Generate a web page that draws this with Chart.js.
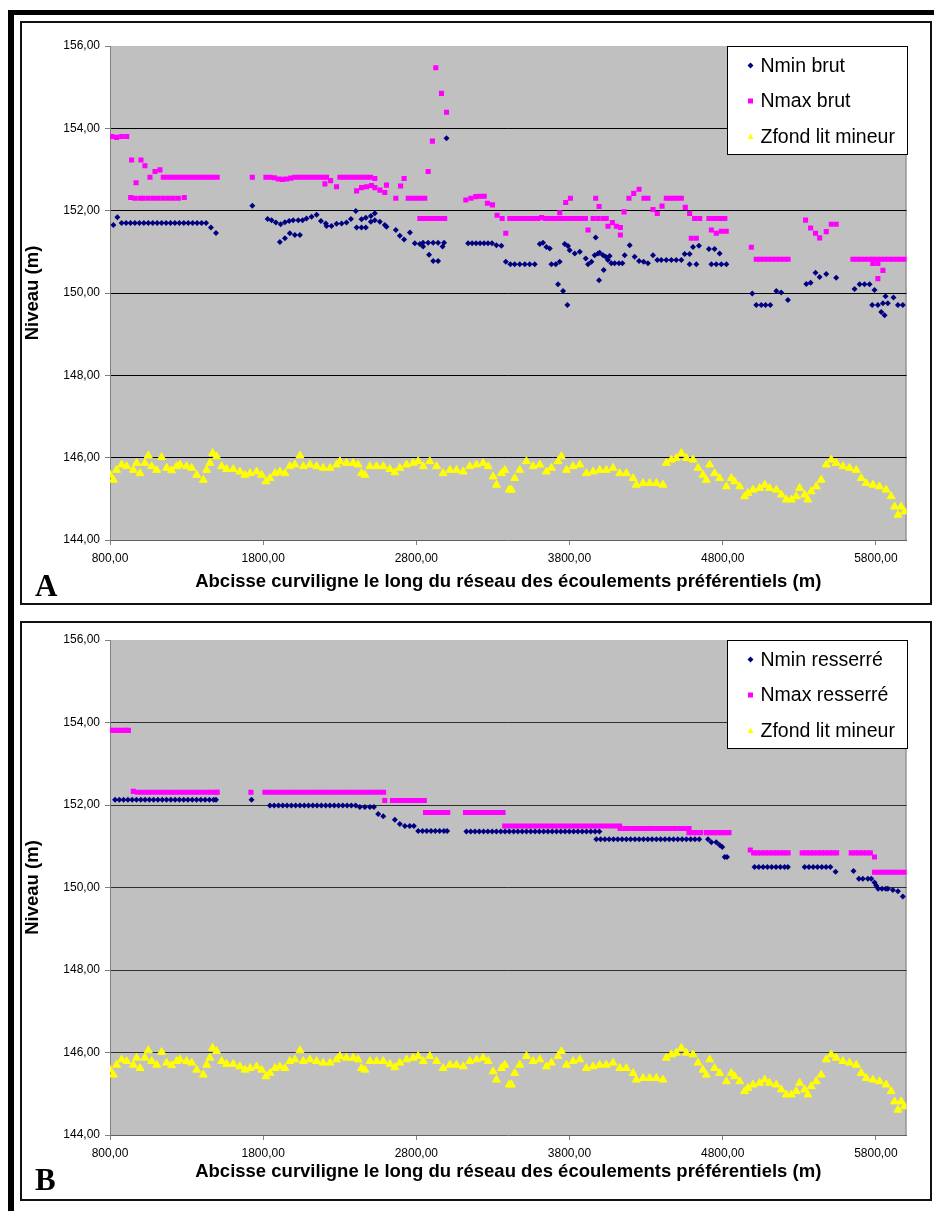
<!DOCTYPE html>
<html>
<head>
<meta charset="utf-8">
<script src="https://cdn.jsdelivr.net/npm/chart.js@4.4.0/dist/chart.umd.min.js"></script>
<style>
  body { margin: 0; background: #fff; width: 934px; height: 1211px; overflow: hidden; position: relative; }
  #outer { position: absolute; left: 8px; top: 10px; width: 940px; height: 1210px; border-left: 6px solid #000; border-top: 5px solid #000; }
  .panel { position: absolute; left: 20px; width: 912px; border: 2px solid #111; box-sizing: border-box; background: #fff; }
  #pa { top: 21px; height: 584px; }
  #pb { top: 621px; height: 580px; }
  .panel canvas { position: absolute; left: 0; top: 0; }
  .tag { position: absolute; left: 13px; font: bold 31px "Liberation Serif", "DejaVu Serif", serif; line-height: 1; color: #000; }
</style>
</head>
<body>
<div id="outer"></div>
<div class="panel" id="pa">
  <canvas id="chartA" width="908" height="580"></canvas>
  <div class="tag" style="top:547px">A</div>
</div>
<div class="panel" id="pb">
  <canvas id="chartB" width="908" height="576"></canvas>
  <div class="tag" style="top:541px">B</div>
</div>
<script>
// axes
var xTicks = [800, 1800, 2800, 3800, 4800, 5800];
var yTicks = [144, 146, 148, 150, 152, 154, 156];
var xTitle = "Abcisse curviligne le long du réseau des écoulements préférentiels (m)";
var yTitle = "Niveau (m)";

// Zfond lit mineur (same profile in both panels)
var zfond = [
  [800,145.58],[822,145.46],[843,145.70],[876,145.83],[909,145.79],[952,145.70],[974,145.87],[996,145.62],
  [1028,145.87],[1050,146.05],[1072,145.79],[1105,145.70],[1137,146.01],[1170,145.75],[1202,145.69],[1235,145.79],
  [1257,145.83],[1300,145.79],[1333,145.75],[1366,145.58],[1409,145.46],[1431,145.70],[1452,145.87],[1470,146.11],
  [1496,146.03],[1529,145.79],[1561,145.72],[1605,145.72],[1648,145.66],[1681,145.58],[1714,145.62],[1757,145.66],
  [1790,145.58],[1818,145.42],[1844,145.50],[1877,145.62],[1909,145.66],[1942,145.62],[1974,145.79],[2007,145.83],
  [2040,146.05],[2062,145.79],[2105,145.83],[2149,145.79],[2192,145.75],[2236,145.75],[2279,145.83],[2301,145.91],
  [2344,145.87],[2388,145.87],[2420,145.83],[2442,145.62],[2464,145.58],[2497,145.79],[2540,145.79],[2584,145.79],
  [2627,145.72],[2660,145.64],[2692,145.75],[2736,145.83],[2779,145.87],[2812,145.91],[2845,145.79],[2888,145.91],
  [2932,145.79],[2975,145.62],[3019,145.70],[3062,145.70],[3106,145.66],[3149,145.79],[3193,145.83],[3236,145.87],
  [3269,145.79],[3301,145.54],[3323,145.34],[3356,145.62],[3378,145.70],[3406,145.22],[3421,145.22],[3442,145.50],
  [3475,145.70],[3519,145.91],[3562,145.79],[3606,145.83],[3649,145.66],[3682,145.75],[3725,145.91],[3747,146.03],
  [3780,145.70],[3823,145.79],[3867,145.83],[3910,145.62],[3954,145.66],[3997,145.70],[4040,145.70],[4084,145.75],
  [4128,145.62],[4171,145.62],[4215,145.50],[4236,145.34],[4280,145.38],[4323,145.38],[4367,145.38],[4410,145.34],
  [4432,145.87],[4465,145.95],[4497,145.99],[4530,146.11],[4563,145.99],[4606,145.95],[4639,145.75],[4671,145.58],
  [4693,145.46],[4715,145.83],[4747,145.62],[4780,145.50],[4824,145.30],[4856,145.50],[4878,145.42],[4911,145.30],
  [4943,145.06],[4965,145.14],[4998,145.22],[5041,145.26],[5074,145.34],[5106,145.26],[5150,145.22],[5182,145.10],
  [5215,144.98],[5248,144.98],[5280,145.06],[5302,145.26],[5335,145.10],[5356,144.98],[5378,145.18],[5411,145.30],
  [5443,145.46],[5476,145.83],[5509,145.95],[5541,145.87],[5585,145.79],[5628,145.75],[5672,145.70],[5704,145.50],
  [5737,145.38],[5781,145.34],[5824,145.30],[5867,145.22],[5900,145.06],[5922,144.81],[5944,144.61],[5965,144.81],
  [5987,144.69]
];

// panel A : Nmin brut
var nminBrut = [
  [822,151.65],[848,151.84],
  [876,151.70],[905,151.70],[934,151.70],[963,151.70],[992,151.70],[1021,151.70],[1050,151.70],[1079,151.70],
  [1108,151.70],[1137,151.70],[1166,151.70],[1195,151.70],[1224,151.70],[1253,151.70],[1282,151.70],[1311,151.70],
  [1340,151.70],[1369,151.70],[1398,151.70],[1427,151.70],[1459,151.59],[1492,151.46],
  [1729,152.12],[1829,151.80],[1855,151.77],[1883,151.71],[1909,151.24],[1914,151.67],[1942,151.72],[1942,151.33],
  [1970,151.75],[1974,151.45],[1996,151.77],[2007,151.41],[2029,151.77],[2040,151.41],[2057,151.77],[2083,151.81],
  [2116,151.85],[2149,151.90],[2177,151.75],[2209,151.69],[2214,151.63],[2246,151.63],[2279,151.68],[2312,151.69],
  [2344,151.71],[2373,151.80],[2405,151.99],[2410,151.59],[2442,151.59],[2442,151.79],[2470,151.59],[2470,151.83],
  [2503,151.87],[2503,151.73],[2529,151.94],[2529,151.77],[2562,151.73],[2594,151.65],[2605,151.61],[2666,151.53],
  [2692,151.39],[2720,151.30],[2758,151.47],[2790,151.21],[2823,151.19],[2844,151.13],[2844,151.22],[2877,151.22],
  [2883,150.93],[2910,150.78],[2910,151.22],[2942,150.78],[2942,151.22],[2971,151.13],[2981,151.22],[2997,153.76],
  [3138,151.21],[3164,151.21],[3190,151.21],[3216,151.21],[3242,151.21],[3268,151.21],[3294,151.21],[3323,151.16],
  [3355,151.15],[3384,150.76],[3414,150.70],[3442,150.70],[3475,150.70],[3508,150.70],[3540,150.70],[3573,150.70],
  [3606,151.19],[3627,151.22],[3649,151.12],[3671,151.08],[3682,150.70],[3710,150.70],[3725,150.21],[3736,150.76],
  [3758,150.05],[3769,151.19],[3786,149.71],[3790,151.14],[3801,151.04],[3834,150.96],[3867,151.00],[3906,150.84],
  [3921,150.70],[3943,150.76],[3964,150.92],[3971,151.35],[3986,150.96],[3993,150.31],[3997,150.98],[4019,150.92],
  [4023,150.56],[4036,150.88],[4051,150.80],[4062,150.90],[4073,150.72],[4095,150.72],[4123,150.72],[4145,150.72],
  [4160,150.92],[4193,151.16],[4225,150.88],[4254,150.78],[4284,150.76],[4312,150.72],[4345,150.92],[4373,150.80],
  [4399,150.80],[4432,150.80],[4465,150.80],[4497,150.80],[4530,150.80],[4552,150.95],[4584,150.95],[4584,150.70],
  [4606,151.12],[4628,150.70],[4645,151.15],[4710,151.07],[4726,150.70],[4747,151.07],[4758,150.70],[4780,150.96],
  [4791,150.70],[4824,150.70],
  [4993,149.99],[5019,149.71],[5052,149.71],[5080,149.71],[5111,149.71],[5150,150.05],[5182,150.01],[5226,149.83],
  [5346,150.22],[5374,150.25],[5406,150.49],[5433,150.39],[5476,150.46],[5541,150.37],
  [5661,150.10],[5694,150.21],[5726,150.21],[5759,150.21],[5776,149.71],[5791,150.07],[5813,149.71],[5835,149.54],
  [5846,149.75],[5857,149.46],[5863,149.92],[5878,149.75],[5915,149.89],[5944,149.71],[5976,149.71]
];

// panel A : Nmax brut
var nmaxBrut = [
  [811,153.80],[843,153.78],[876,153.80],[909,153.80],[935,152.32],[941,153.23],[963,152.30],[970,152.68],
  [996,152.30],[1002,153.23],[1017,152.30],[1028,153.09],[1050,152.30],[1061,152.81],[1083,152.30],[1094,152.95],
  [1115,152.30],[1126,152.99],[1148,152.30],[1148,152.81],[1181,152.30],[1213,152.30],[1246,152.30],[1285,152.32],
  [1175,152.81],[1200,152.81],[1225,152.81],[1250,152.81],[1275,152.81],[1300,152.81],[1325,152.81],[1350,152.81],
  [1375,152.81],[1400,152.81],[1425,152.81],[1450,152.81],[1475,152.81],[1500,152.81],
  [1729,152.81],[1818,152.81],[1845,152.81],[1872,152.80],[1899,152.77],[1926,152.76],[1953,152.77],[1980,152.79],
  [2007,152.81],[2034,152.81],[2061,152.81],[2088,152.81],[2115,152.81],[2142,152.81],[2169,152.81],[2196,152.81],
  [2214,152.81],[2203,152.65],[2240,152.73],[2279,152.58],
  [2301,152.81],[2326,152.81],[2351,152.81],[2376,152.81],[2401,152.81],[2426,152.81],[2451,152.81],[2476,152.81],
  [2501,152.81],[2529,152.78],[2410,152.48],[2442,152.56],[2475,152.58],[2507,152.61],[2529,152.56],[2562,152.50],
  [2594,152.44],[2605,152.62],[2666,152.30],[2697,152.60],[2720,152.78],
  [2747,152.30],[2774,152.30],[2801,152.30],[2828,152.30],[2855,152.30],[2877,152.95],[2905,153.69],[2927,155.47],
  [2964,154.85],[2997,154.39],
  [2823,151.81],[2850,151.81],[2877,151.81],[2904,151.81],[2931,151.81],[2958,151.81],[2985,151.81],
  [3123,152.26],[3156,152.30],[3188,152.34],[3214,152.35],[3243,152.35],[3264,152.18],[3297,152.14],[3327,151.89],
  [3360,151.81],[3384,151.45],
  [3410,151.81],[3436,151.81],[3462,151.81],[3488,151.81],[3514,151.81],[3540,151.81],[3566,151.81],[3592,151.81],
  [3618,151.83],[3644,151.81],[3670,151.81],[3696,151.81],[3722,151.81],[3748,151.81],[3774,151.81],[3800,151.81],
  [3826,151.81],[3852,151.81],[3878,151.81],[3904,151.81],[3736,151.95],[3775,152.20],[3806,152.30],[3921,151.53],
  [3954,151.81],[3971,152.30],[3986,151.81],[3993,152.10],[4019,151.81],[4040,151.81],[4051,151.62],[4080,151.71],
  [4106,151.62],[4132,151.59],[4132,151.41],[4156,151.97],[4188,152.30],[4219,152.42],[4254,152.52],[4286,152.30],
  [4312,152.30],[4345,152.03],[4373,151.93],[4404,152.11],
  [4432,152.30],[4456,152.30],[4480,152.30],[4505,152.30],[4530,152.30],[4556,152.08],[4584,151.93],[4617,151.81],
  [4650,151.81],[4595,151.33],[4628,151.33],
  [4710,151.81],[4736,151.81],[4762,151.81],[4788,151.81],[4814,151.81],[4726,151.53],[4758,151.45],[4791,151.50],
  [4823,151.50],
  [4987,151.11],[5019,150.82],[5045,150.82],[5071,150.82],[5097,150.82],[5123,150.82],[5149,150.82],[5175,150.82],
  [5201,150.82],[5227,150.82],
  [5341,151.77],[5374,151.58],[5406,151.45],[5433,151.34],[5476,151.49],[5509,151.67],[5541,151.67],
  [5650,150.82],[5676,150.82],[5702,150.82],[5728,150.82],[5754,150.82],[5780,150.82],[5806,150.82],[5832,150.82],
  [5858,150.82],[5884,150.82],[5910,150.82],[5936,150.82],[5962,150.82],[5988,150.82],
  [5780,150.72],[5813,150.72],[5846,150.55],[5813,150.35]
];

// panel B : Nmin resserré
var nminRes = [
  [833,152.13],[861,152.13],[889,152.13],[917,152.13],[945,152.13],[973,152.13],[1001,152.13],[1029,152.13],
  [1057,152.13],[1085,152.13],[1113,152.13],[1141,152.13],[1169,152.13],[1197,152.13],[1225,152.13],[1253,152.13],
  [1281,152.13],[1309,152.13],[1337,152.13],[1365,152.13],[1393,152.13],[1421,152.13],[1449,152.13],[1477,152.13],
  [1492,152.13],[1724,152.13],
  [1844,151.99],[1872,151.99],[1900,151.99],[1928,151.99],[1956,151.99],[1984,151.99],[2012,151.99],[2040,151.99],
  [2068,151.99],[2096,151.99],[2124,151.99],[2152,151.99],[2180,151.99],[2208,151.99],[2236,151.99],[2264,151.99],
  [2292,151.99],[2320,151.99],[2348,151.99],[2376,151.99],[2404,151.99],
  [2431,151.95],[2464,151.95],[2497,151.95],[2523,151.95],[2551,151.78],[2584,151.73],[2660,151.64],[2692,151.54],
  [2725,151.49],[2757,151.49],[2784,151.49],
  [2812,151.37],[2840,151.37],[2868,151.37],[2896,151.37],[2924,151.37],[2952,151.37],[2980,151.37],[3001,151.37],
  [3127,151.36],[3155,151.36],[3183,151.36],[3211,151.36],[3239,151.36],[3267,151.36],[3295,151.36],[3323,151.36],
  [3351,151.36],[3379,151.36],[3407,151.36],[3435,151.36],[3463,151.36],[3491,151.36],[3519,151.36],[3547,151.36],
  [3575,151.36],[3603,151.36],[3631,151.36],[3659,151.36],[3687,151.36],[3715,151.36],[3743,151.36],[3771,151.36],
  [3799,151.36],[3827,151.36],[3855,151.36],[3883,151.36],[3911,151.36],[3939,151.36],[3967,151.36],[3995,151.36],
  [3975,151.17],[4003,151.17],[4031,151.17],[4059,151.17],[4087,151.17],[4115,151.17],[4143,151.17],[4171,151.17],
  [4199,151.17],[4227,151.17],[4255,151.17],[4283,151.17],[4311,151.17],[4339,151.17],[4367,151.17],[4395,151.17],
  [4423,151.17],[4451,151.17],[4479,151.17],[4507,151.17],[4535,151.17],[4563,151.17],[4591,151.17],[4619,151.17],
  [4647,151.17],
  [4704,151.17],[4726,151.10],[4758,151.10],[4780,151.03],[4797,150.98],[4813,150.74],[4828,150.74],
  [5008,150.50],[5036,150.50],[5064,150.50],[5092,150.50],[5120,150.50],[5148,150.50],[5176,150.50],[5204,150.50],
  [5226,150.50],
  [5335,150.50],[5363,150.50],[5391,150.50],[5419,150.50],[5447,150.50],[5475,150.50],[5503,150.50],[5537,150.38],
  [5654,150.40],[5689,150.21],[5715,150.21],[5748,150.21],[5770,150.21],[5791,150.12],[5802,150.05],[5815,149.97],
  [5840,149.97],[5865,149.97],[5878,149.97],[5911,149.94],[5944,149.91],[5976,149.78]
];

// panel B : Nmax resserré
var nmaxRes = [
  [800,153.81],[825,153.81],[850,153.81],[875,153.81],[900,153.81],[920,153.81],
  [952,152.33],[980,152.31],[1010,152.31],[1040,152.31],[1070,152.31],[1100,152.31],[1130,152.31],[1160,152.31],
  [1190,152.31],[1220,152.31],[1250,152.31],[1280,152.31],[1310,152.31],[1340,152.31],[1370,152.31],[1400,152.31],
  [1430,152.31],[1460,152.31],[1490,152.31],[1500,152.31],[1720,152.31],
  [1811,152.31],[1841,152.31],[1871,152.31],[1901,152.31],[1931,152.31],[1961,152.31],[1991,152.31],[2021,152.31],
  [2051,152.31],[2081,152.31],[2111,152.31],[2141,152.31],[2171,152.31],[2201,152.31],[2231,152.31],[2261,152.31],
  [2291,152.31],[2321,152.31],[2351,152.31],[2381,152.31],[2411,152.31],[2441,152.31],[2471,152.31],[2501,152.31],
  [2531,152.31],[2561,152.31],[2586,152.31],[2594,152.11],
  [2644,152.11],[2670,152.11],[2696,152.11],[2722,152.11],[2748,152.11],[2774,152.11],[2800,152.11],[2826,152.11],
  [2852,152.11],
  [2860,151.82],[2885,151.82],[2910,151.82],[2935,151.82],[2960,151.82],[2985,151.82],[3005,151.82],
  [3121,151.82],[3146,151.82],[3171,151.82],[3196,151.82],[3221,151.82],[3246,151.82],[3271,151.82],[3296,151.82],
  [3321,151.82],[3346,151.82],[3366,151.82],
  [3377,151.49],[3407,151.49],[3437,151.49],[3467,151.49],[3497,151.49],[3527,151.49],[3557,151.49],[3587,151.49],
  [3617,151.49],[3647,151.49],[3677,151.49],[3707,151.49],[3737,151.49],[3767,151.49],[3797,151.49],[3827,151.49],
  [3857,151.49],[3887,151.49],[3917,151.49],[3947,151.49],[3977,151.49],[4007,151.49],[4037,151.49],[4067,151.49],
  [4097,151.49],[4127,151.49],
  [4130,151.43],[4160,151.43],[4190,151.43],[4220,151.43],[4250,151.43],[4280,151.43],[4310,151.43],[4340,151.43],
  [4370,151.43],[4400,151.43],[4430,151.43],[4460,151.43],[4490,151.43],[4520,151.43],[4550,151.43],[4580,151.43],
  [4580,151.33],[4605,151.33],[4630,151.33],[4655,151.33],
  [4693,151.33],[4718,151.33],[4743,151.33],[4768,151.33],[4793,151.33],[4818,151.33],[4841,151.33],
  [4980,150.91],[5002,150.84],[5027,150.84],[5052,150.84],[5077,150.84],[5102,150.84],[5127,150.84],[5152,150.84],
  [5177,150.84],[5202,150.84],[5227,150.84],
  [5319,150.84],[5344,150.84],[5369,150.84],[5394,150.84],[5419,150.84],[5444,150.84],[5469,150.84],[5494,150.84],
  [5519,150.84],[5544,150.84],
  [5639,150.84],[5664,150.84],[5689,150.84],[5714,150.84],[5739,150.84],[5764,150.84],[5791,150.74],
  [5791,150.37],[5816,150.37],[5841,150.37],[5866,150.37],[5891,150.37],[5916,150.37],[5941,150.37],[5966,150.37],
  [5991,150.37]
];

var NAVY = "#000080", MAGENTA = "#FF00FF", YELLOW = "#FFFF00";
var FONT = "'Liberation Sans', Arial, sans-serif";

function fmt(v) { return Number(v).toFixed(2).replace(".", ","); }

// grey plot area
var plotBg = {
  id: "plotBg",
  beforeDraw: function (chart) {
    var a = chart.chartArea, ctx = chart.ctx;
    ctx.save();
    ctx.fillStyle = "#C0C0C0";
    ctx.fillRect(a.left, a.top, a.right - a.left, a.bottom - a.top);
    ctx.strokeStyle = "#808080";
    ctx.lineWidth = 1;
    ctx.beginPath();
    ctx.moveTo(a.right - 0.5, a.top);
    ctx.lineTo(a.right - 0.5, a.bottom);
    ctx.stroke();
    ctx.restore();
  }
};

// excel-like legend box in top right corner of the plot
function marker(ctx, style, color, x, y) {
  ctx.fillStyle = color;
  ctx.beginPath();
  if (style === "rectRot") {
    ctx.moveTo(x, y - 3); ctx.lineTo(x + 3, y); ctx.lineTo(x, y + 3); ctx.lineTo(x - 3, y);
  } else if (style === "rect") {
    ctx.rect(x - 2.5, y - 2.5, 5, 5);
  } else {
    ctx.moveTo(x, y - 3); ctx.lineTo(x + 3, y + 2.5); ctx.lineTo(x - 3, y + 2.5);
  }
  ctx.closePath();
  ctx.fill();
}
var boxLegend = {
  id: "boxLegend",
  afterDraw: function (chart, args, o) {
    var a = chart.chartArea, ctx = chart.ctx;
    var x0 = Math.round(a.right - o.width) + 0.5, y0 = Math.round(a.top) + 0.5;
    ctx.save();
    ctx.fillStyle = "#fff";
    ctx.fillRect(x0, y0, o.width, o.height);
    ctx.strokeStyle = "#000";
    ctx.lineWidth = 1;
    ctx.strokeRect(x0, y0, o.width, o.height);
    ctx.font = o.fontSize + "px " + FONT;
    ctx.textBaseline = "middle";
    chart.data.datasets.forEach(function (ds, i) {
      var y = y0 + o.first + i * o.gap;
      marker(ctx, ds.pointStyle, ds.backgroundColor, x0 + 23, y);
      ctx.fillStyle = "#000";
      ctx.fillText(ds.label, x0 + 33, y + 1);
    });
    ctx.restore();
  }
};

function buildChart(id, sets, pad) {
  return new Chart(document.getElementById(id), {
    type: "scatter",
    data: {
      datasets: sets.map(function (s) {
        return {
          label: s.label,
          data: s.points.map(function (p) { return { x: p[0], y: p[1] }; }),
          pointStyle: s.style,
          pointRadius: s.radius,
          pointHoverRadius: s.radius,
          backgroundColor: s.color,
          borderColor: s.color,
          borderWidth: s.border || 0
        };
      })
    },
    options: {
      responsive: false,
      animation: false,
      devicePixelRatio: 1,
      layout: { padding: { left: 0, top: pad.top, right: 23.5, bottom: 0 } },
      plugins: {
        legend: { display: false },
        tooltip: { enabled: false },
        boxLegend: { width: 180, height: 108, first: 19, gap: 35.5, fontSize: 19.5 }
      },
      scales: {
        x: {
          type: "linear",
          min: 800,
          max: 6000,
          afterBuildTicks: function (s) { s.ticks = xTicks.map(function (v) { return { value: v }; }); },
          afterFit: function (s) { s.height = pad.xHeight; },
          grid: { drawOnChartArea: false, tickLength: 5, tickColor: "#808080" },
          border: { color: "#606060", width: 1 },
          ticks: { color: "#000", font: { family: FONT, size: 12 }, padding: 6, maxRotation: 0, autoSkip: false,
                   callback: function (v) { return fmt(v); } },
          title: { display: true, text: xTitle, color: "#000", font: { family: FONT, size: 18.5, weight: "bold" },
                   padding: { top: 0, bottom: pad.title } }
        },
        y: {
          min: 144,
          max: 156,
          afterBuildTicks: function (s) { s.ticks = yTicks.map(function (v) { return { value: v }; }); },
          afterFit: function (s) { s.width = 88; },
          grid: {
            color: function (c) { return (c.tick && (c.tick.value === 144 || c.tick.value === 156)) ? "rgba(0,0,0,0)" : pad.grid; },
            tickLength: 5, tickColor: "#808080"
          },
          border: { color: "#808080", width: 1 },
          ticks: { color: "#000", font: { family: FONT, size: 12 }, padding: 5, callback: function (v) { return fmt(v); } },
          title: { display: true, text: yTitle, color: "#000", font: { family: FONT, size: 18.5, weight: "bold" },
                   padding: { top: 0, bottom: 0 } }
        }
      }
    },
    plugins: [plotBg, boxLegend]
  });
}

buildChart("chartA", [
  { label: "Nmin brut", points: nminBrut, style: "rectRot", radius: 3, color: NAVY },
  { label: "Nmax brut", points: nmaxBrut, style: "rect", radius: 3.6, color: MAGENTA },
  { label: "Zfond lit mineur", points: zfond, style: "triangle", radius: 4.6, color: YELLOW, border: 1 }
], { top: 23, xHeight: 63, title: 10, grid: "#000" });

buildChart("chartB", [
  { label: "Nmin resserré", points: nminRes, style: "rectRot", radius: 3, color: NAVY },
  { label: "Nmax resserré", points: nmaxRes, style: "rect", radius: 3.6, color: MAGENTA },
  { label: "Zfond lit mineur", points: zfond, style: "triangle", radius: 4.6, color: YELLOW, border: 1 }
], { top: 17, xHeight: 64, title: 16, grid: "#303030" });
</script>
</body>
</html>
